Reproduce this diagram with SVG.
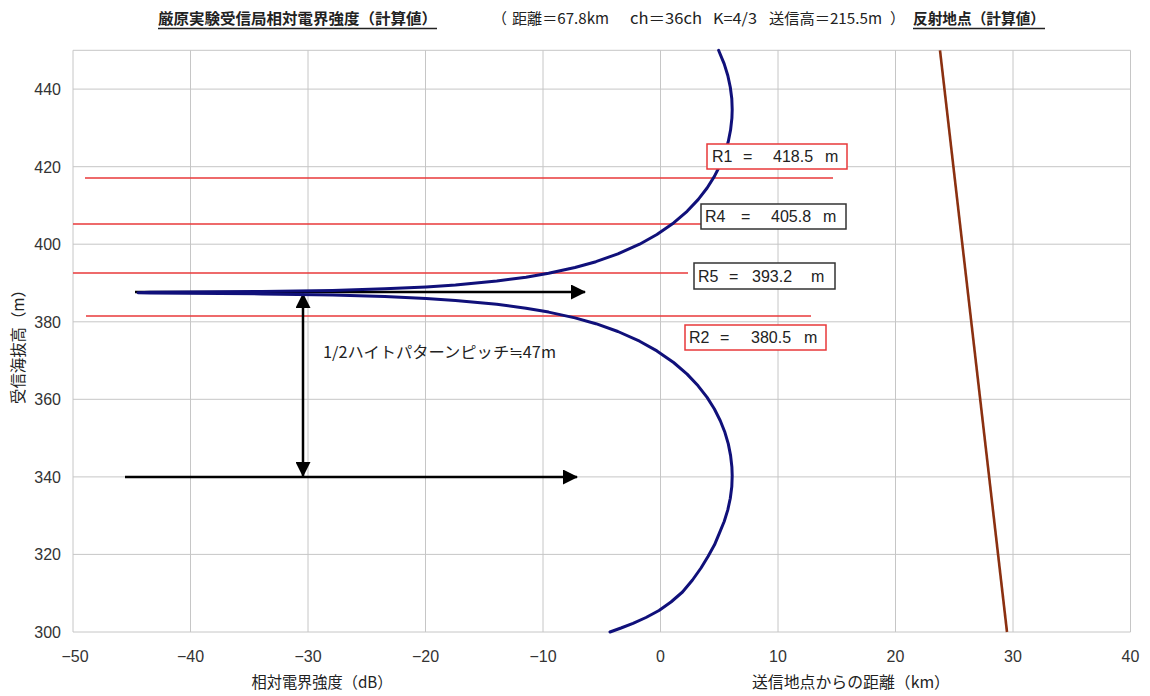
<svg xmlns="http://www.w3.org/2000/svg" width="1150" height="696" viewBox="0 0 1150 696">
<style>
.bg{fill:#ffffff}
.grid{stroke:#c6c6c6;stroke-width:1;fill:none}
.red{stroke:#e8383a;stroke-width:1.4;fill:none}
.boxr{stroke:#e8383a;stroke-width:1.5;fill:#ffffff}
.boxk{stroke:#333333;stroke-width:1.5;fill:#ffffff}
.tick{font-family:"Liberation Sans",Arial,sans-serif;font-size:16px;fill:#333333}
.jp{font-family:"Noto Sans CJK JP","Liberation Sans",sans-serif;fill:#222222}
.lbl{font-family:"Liberation Sans",Arial,sans-serif;font-size:16px;fill:#222222}
.arrow{stroke:#000000;stroke-width:2.5;fill:none}
</style>
<defs>
<marker id="ah" viewBox="0 0 15 15" refX="14" refY="7.5" markerWidth="15" markerHeight="15" markerUnits="userSpaceOnUse" orient="auto-start-reverse">
<path d="M0,0 L15,7.5 L0,15 Z" fill="#000000"/>
</marker>
</defs>
<rect class="bg" x="0" y="0" width="1150" height="696"/>

<g id="title">
<text class="jp" x="158" y="24" font-size="15" font-weight="bold" textLength="279" lengthAdjust="spacingAndGlyphs">厳原実験受信局相対電界強度（計算値）</text>
<line x1="158" y1="28.5" x2="437" y2="28.5" stroke="#222" stroke-width="1.3"/>
<text class="jp" x="492" y="24" font-size="15">（</text>
<text class="jp" x="512" y="24" font-size="15" textLength="97" lengthAdjust="spacingAndGlyphs">距離＝67.8km</text>
<text class="jp" x="630" y="24" font-size="15" textLength="72" lengthAdjust="spacingAndGlyphs">ch＝36ch</text>
<text class="jp" x="713" y="24" font-size="15" textLength="44" lengthAdjust="spacingAndGlyphs">K=4/3</text>
<text class="jp" x="769" y="24" font-size="15" textLength="113" lengthAdjust="spacingAndGlyphs">送信高＝215.5m</text>
<text class="jp" x="890" y="24" font-size="15">）</text>
<text class="jp" x="913" y="24" font-size="15" font-weight="bold" textLength="132" lengthAdjust="spacingAndGlyphs">反射地点（計算値）</text>
<line x1="913" y1="28.5" x2="1045" y2="28.5" stroke="#222" stroke-width="1.3"/>
</g>

<g id="grid">
<path class="grid" d="M73,50.3V632 M190.5,50.3V632 M308,50.3V632 M425.5,50.3V632 M543,50.3V632 M660.5,50.3V632 M778,50.3V632 M895.5,50.3V632 M1013,50.3V632 M1130.5,50.3V632"/>
<path class="grid" d="M73,50.3H1130.5 M73,89.1H1130.5 M73,166.7H1130.5 M73,244.2H1130.5 M73,321.8H1130.5 M73,399.3H1130.5 M73,476.9H1130.5 M73,554.4H1130.5 M73,632H1130.5"/>
</g>

<g id="y-axis">
<g class="tick" text-anchor="end">
<text x="61" y="95">440</text>
<text x="61" y="172.5">420</text>
<text x="61" y="250">400</text>
<text x="61" y="327.5">380</text>
<text x="61" y="405">360</text>
<text x="61" y="482.5">340</text>
<text x="61" y="560">320</text>
<text x="61" y="637.5">300</text>
</g>
<text class="jp" font-size="15.5" text-anchor="middle" transform="translate(24,343) rotate(-90)" textLength="122" lengthAdjust="spacingAndGlyphs">受信海抜高（m）</text>
</g>

<g id="x-axis">
<g class="tick" text-anchor="middle">
<text x="75" y="662">−50</text>
<text x="190.5" y="662">−40</text>
<text x="308" y="662">−30</text>
<text x="425.5" y="662">−20</text>
<text x="543" y="662">−10</text>
<text x="660.5" y="662">0</text>
<text x="778" y="662">10</text>
<text x="895.5" y="662">20</text>
<text x="1013" y="662">30</text>
<text x="1130.5" y="662">40</text>
</g>
<text class="jp" x="322" y="688" font-size="15.5" text-anchor="middle" textLength="141" lengthAdjust="spacingAndGlyphs">相対電界強度（dB）</text>
<text class="jp" x="851" y="688" font-size="15.5" text-anchor="middle" textLength="198" lengthAdjust="spacingAndGlyphs">送信地点からの距離（km）</text>
</g>

<g id="reflection-lines">
<line class="red" x1="85" y1="178" x2="833" y2="178"/>
<line class="red" x1="73" y1="224" x2="701" y2="224"/>
<line class="red" x1="73" y1="273" x2="688" y2="273"/>
<line class="red" x1="86" y1="316" x2="811" y2="316"/>
</g>

<g id="connectors">
<line class="arrow" x1="135" y1="292" x2="585" y2="292" marker-end="url(#ah)"/>
<line class="arrow" x1="125" y1="477" x2="577" y2="477" marker-end="url(#ah)"/>
<line class="arrow" x1="303" y1="294" x2="303" y2="476" marker-start="url(#ah)" marker-end="url(#ah)"/>
</g>

<g id="field-curve">
<path fill="none" stroke="#10107a" stroke-width="3" stroke-linejoin="round" stroke-linecap="round" d="M718.6,50.3 L719.4,52.3 L724.2,63.9 L727.8,75.5 L730.3,87.2 L731.8,98.8 L732.2,109.5 L731.9,118.2 L730.6,129.8 L728.3,141.5 L724.9,153.1 L720.3,164.7 L714.4,176.4 L707.1,188 L698.1,199.6 L687.1,211.3 L673.6,222.9 L656.9,234.5 L639.6,244.2 L617.9,253.9 L595.9,261.7 L575,267.5 L548.6,273.3 L526,277.2 L496.8,281.1 L455.5,285 L426.1,286.9 L384.8,288.8 L332.6,290.4 L261.9,291.5 L150,292.3 L138,292.7 L150,293.1 L261.9,293.9 L332.6,295 L384.8,296.6 L426.1,298.5 L455.5,300.5 L496.8,304.3 L526,308.2 L548.6,312.1 L575,317.9 L595.9,323.7 L617.9,331.5 L639.6,341.2 L656.9,350.9 L673.6,362.5 L687.1,374.1 L698.1,385.8 L707.1,397.4 L714.4,409 L720.3,420.7 L724.9,432.3 L728.3,443.9 L730.6,455.6 L731.9,467.2 L732.2,475.9 L731.8,486.6 L730.3,498.2 L727.8,509.9 L724.2,521.5 L719.4,533.1 L714.5,544.8 L708,556.4 L701,568 L692.5,580 L682.5,592 L671,602 L659,610.5 L646,617.5 L633,623.3 L621,628 L610,632"/>
</g>

<g id="reflection-point-line">
<line x1="940" y1="50.3" x2="1007" y2="632" stroke="#8b3010" stroke-width="2.6"/>
</g>

<g id="pitch-label">
<text class="jp" x="323" y="358" font-size="15.5" textLength="233" lengthAdjust="spacingAndGlyphs">1/2ハイトパターンピッチ≒47m</text>
</g>

<g id="box-R1">
<rect class="boxr" x="707" y="144" width="140" height="25"/>
<text class="lbl" y="162"><tspan x="712">R1</tspan><tspan x="743">=</tspan><tspan x="773">418.5</tspan><tspan x="825">m</tspan></text>
</g>
<g id="box-R4">
<rect class="boxk" x="701" y="204" width="145" height="25"/>
<text class="lbl" y="222"><tspan x="705">R4</tspan><tspan x="741">=</tspan><tspan x="771">405.8</tspan><tspan x="823">m</tspan></text>
</g>
<g id="box-R5">
<rect class="boxk" x="694" y="263" width="141" height="26"/>
<text class="lbl" y="282"><tspan x="698">R5</tspan><tspan x="729">=</tspan><tspan x="752">393.2</tspan><tspan x="811">m</tspan></text>
</g>
<g id="box-R2">
<rect class="boxr" x="685" y="325" width="141" height="25"/>
<text class="lbl" y="343"><tspan x="689">R2</tspan><tspan x="720">=</tspan><tspan x="751">380.5</tspan><tspan x="804">m</tspan></text>
</g>
</svg>
